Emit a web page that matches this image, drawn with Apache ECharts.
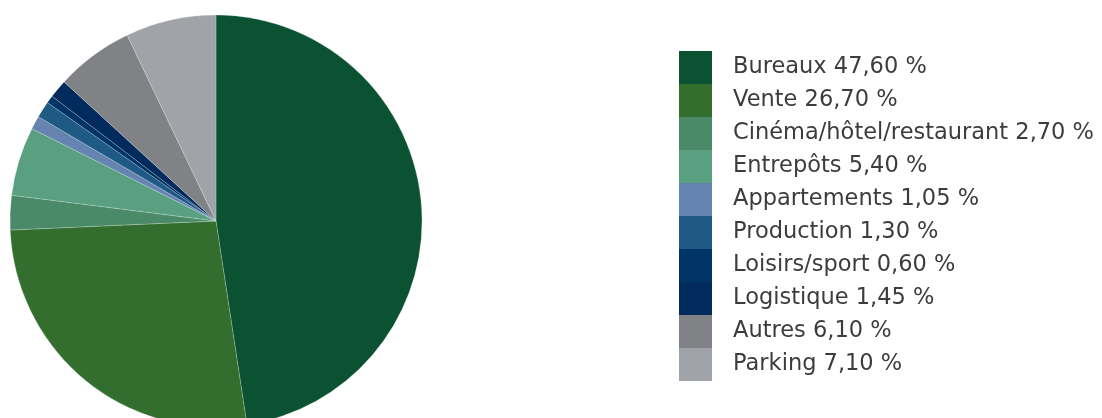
<!DOCTYPE html>
<html>
<head>
<meta charset="utf-8">
<script src="https://cdn.jsdelivr.net/npm/echarts@6/dist/echarts.min.js"></script>
<style>
  html, body { margin: 0; padding: 0; background: #ffffff; }
  #chart { width: 1102px; height: 418px; }
</style>
</head>
<body>
<div id="chart"></div>
<script>
// Répartition des surfaces par type d'usage (%)
const categories = [
  'Bureaux', 'Vente', 'Cinéma/hôtel/restaurant', 'Entrepôts', 'Appartements',
  'Production', 'Loisirs/sport', 'Logistique', 'Autres', 'Parking'
];
const shares = [47.60, 26.70, 2.70, 5.40, 1.05, 1.30, 0.60, 1.45, 6.10, 7.10];
const palette = [
  '#0b5232', '#336e2f', '#4b8a68', '#58a080', '#6585b0',
  '#1f5a85', '#003366', '#002b5c', '#808285', '#a0a3a8'
];

const fmt = v => v.toFixed(2).replace('.', ',') + ' %';

const data = categories.map((name, i) => ({
  name: name,
  value: shares[i],
  itemStyle: { color: palette[i] }
}));

const chart = echarts.init(document.getElementById('chart'), null, { renderer: 'canvas' });
chart.setOption({
  animation: false,
  backgroundColor: '#ffffff',
  legend: {
    orient: 'vertical',
    left: 679,
    top: 51,
    padding: 0,
    itemWidth: 33,
    itemHeight: 33,
    itemGap: 0,
    icon: 'rect',
    itemStyle: { borderWidth: 0 },
    data: categories,
    formatter: name => name + ' ' + fmt(shares[categories.indexOf(name)]),
    textStyle: {
      fontFamily: '"DejaVu Sans", "Liberation Sans", sans-serif',
      fontWeight: 'normal',
      fontSize: 22.5,
      lineHeight: 33,
      color: '#3c3c3c',
      padding: [0, 0, 0, 16]
    },
    selectedMode: false
  },
  series: [{
    type: 'pie',
    center: [216, 221],
    radius: 206,
    startAngle: 90,
    clockwise: true,
    label: { show: false },
    labelLine: { show: false },
    emphasis: { disabled: true },
    itemStyle: { borderColor: 'rgba(255,255,255,0.35)', borderWidth: 0.6 },
    data: data
  }]
});
</script>
</body>
</html>
